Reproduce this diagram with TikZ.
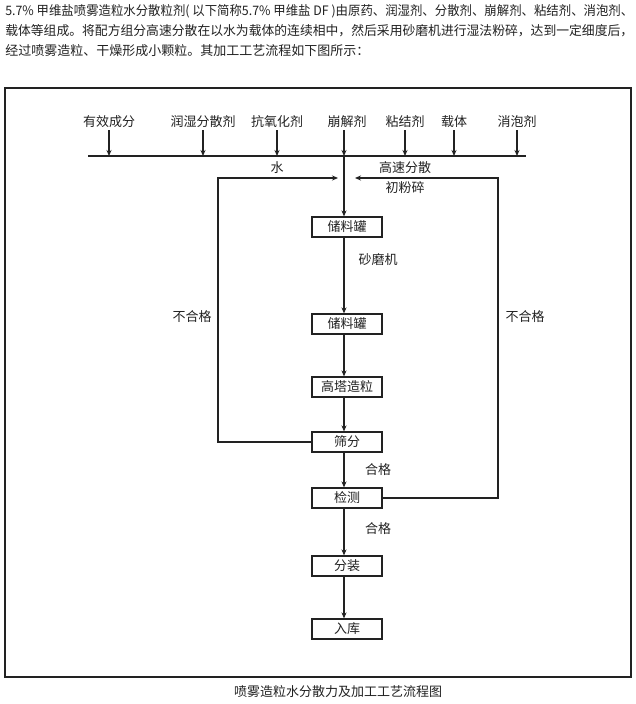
\documentclass[tikz,border=0pt]{standalone}
\usepackage{fontspec}
\setmainfont{Noto Sans CJK SC}
\usetikzlibrary{arrows.meta}
\definecolor{ink}{HTML}{222222}
\begin{document}
\begin{tikzpicture}[x=0.75pt,y=-0.75pt,
  every node/.style={font=\fontsize{9.75}{11}\selectfont, text=ink, inner sep=1.5pt},
  box/.style={draw=ink, line width=0.9pt, minimum width=52.5pt, minimum height=15pt, inner sep=0pt},
  line/.style={draw=ink, line width=0.9pt},
  arr/.style={line, -{Stealth[length=4.5pt,width=3.8pt]}},
  hdr/.style={anchor=west, inner sep=0pt},
]
\useasboundingbox (0,0) rectangle (636,704);
\fill[white] (0,0) rectangle (636,704);

% header text
\node[hdr] (h1) at (5,11) {\resizebox{471pt}{\height}{5.7\% 甲维盐喷雾造粒水分散粒剂( 以下简称5.7\% 甲维盐 DF )由原药、润湿剂、分散剂、崩解剂、粘结剂、消泡剂、}};
\node[hdr] (h2) at (5,31) {\resizebox{471pt}{\height}{载体等组成。将配方组分高速分散在以水为载体的连续相中，然后采用砂磨机进行湿法粉碎，达到一定细度后，}};
\node[hdr] (h3) at (5,51) {经过喷雾造粒、干燥形成小颗粒。其加工工艺流程如下图所示：};

% frame
\draw[line] (5,88) rectangle (631,677);

% ingredients
\node (i1) at (109,122) {有效成分};
\node (i2) at (203,122) {润湿分散剂};
\node (i3) at (277,122) {抗氧化剂};
\node (i4) at (347,122) {崩解剂};
\node (i5) at (405,122) {粘结剂};
\node (i6) at (454,122) {载体};
\node (i7) at (517,122) {消泡剂};

\coordinate (busL) at (88,156);
\coordinate (busR) at (526,156);
\coordinate (mx) at (344,156);
\draw[line] (busL) -- (busR);

\draw[arr] (i1.south) -- (i1.south |- busL);
\draw[arr] (i2.south) -- (i2.south |- busL);
\draw[arr] (i3.south) -- (i3.south |- busL);
\draw[arr] (i4.south -| mx) -- (mx);
\draw[arr] (i5.south) -- (i5.south |- busL);
\draw[arr] (i6.south) -- (i6.south |- busL);
\draw[arr] (i7.south) -- (i7.south |- busL);

% process boxes
\node[box] (b1) at (347,227) {储料罐};
\node[box] (b2) at (347,324) {储料罐};
\node[box] (b3) at (347,387) {高塔造粒};
\node[box] (b4) at (347,442) {筛分};
\node[box] (b5) at (347,498) {检测};
\node[box] (b6) at (347,566) {分装};
\node[box] (b7) at (347,629) {入库};

\draw[arr] (mx) -- (mx |- b1.north);
\draw[arr] (b1.south -| mx) -- (b2.north -| mx);
\draw[arr] (b2.south -| mx) -- (b3.north -| mx);
\draw[arr] (b3.south -| mx) -- (b4.north -| mx);
\draw[arr] (b4.south -| mx) -- (b5.north -| mx);
\draw[arr] (b5.south -| mx) -- (b6.north -| mx);
\draw[arr] (b6.south -| mx) -- (b7.north -| mx);

% loops
\coordinate (wl) at (218,178);
\coordinate (wr) at (498,178);
\coordinate (tl) at (338,178);
\coordinate (tr) at (355,178);
\draw[arr] (b4.west) -| (wl) -- (tl);
\draw[arr] (b5.east) -| (wr) -- (tr);

% labels
\node (w) at (277,168) {水};
\node (gs) at (405,168) {高速分散};
\node (cf) at (405,188) {初粉碎};
\node (sm) at (378,260) {砂磨机};
\node (hg1) at (378,470) {合格};
\node (hg2) at (378,529) {合格};
\node (bl) at (192,317) {不合格};
\node (br) at (525,317) {不合格};

% caption
\node (cap) at (338,692) {喷雾造粒水分散力及加工工艺流程图};
\end{tikzpicture}
\end{document}
